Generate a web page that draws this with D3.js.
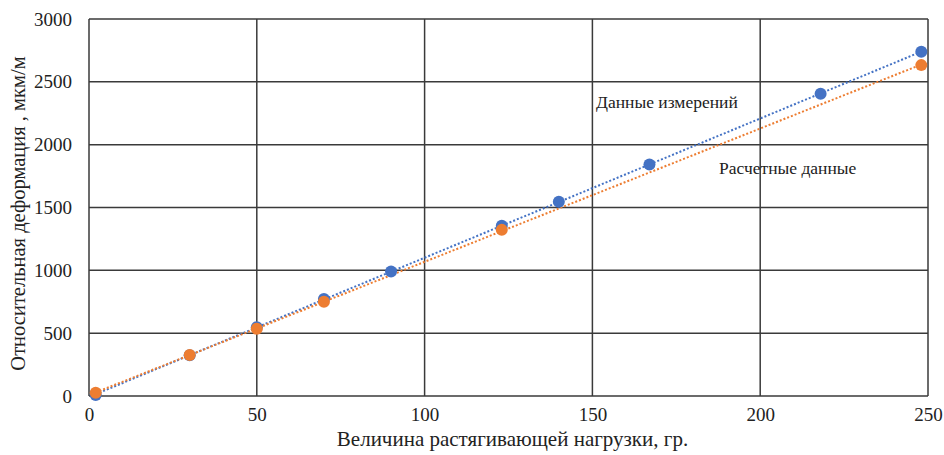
<!DOCTYPE html>
<html>
<head>
<meta charset="utf-8">
<script src="https://cdn.jsdelivr.net/npm/d3@7"></script>
<style>
	body { margin: 0; background: #fff; }
	svg text { font-family: 'Liberation Serif', 'Tinos', 'Times New Roman', 'DejaVu Serif', serif; fill: #222; }
</style>
</head>
<body>
<script>
// Данные измерений
var measuredX = [2, 30, 50, 70, 90, 123, 140, 167, 218, 248]
var measuredY = [8, 325, 548, 772, 990, 1355, 1546, 1843, 2405, 2739]
// Расчетные данные
var calcX = [2, 30, 50, 70, 123, 248]
var calcY = [25, 326, 535, 750, 1322, 2633]

var xTicks = [0, 50, 100, 150, 200, 250]
var yTicks = [0, 500, 1000, 1500, 2000, 2500, 3000]

var width = 944, height = 455
var margin = {left: 89, top: 19, right: 16, bottom: 59}
var serif = "'Liberation Serif', 'Tinos', 'Times New Roman', 'DejaVu Serif', serif"

function zip(xs, ys){
	return xs.map(function(x, i){ return {x: x, y: ys[i]} })
}

// linear least squares trendline, like Excel
function fit(pts){
	var mx = d3.mean(pts, function(d){ return d.x })
	var my = d3.mean(pts, function(d){ return d.y })
	var sxy = d3.sum(pts, function(d){ return (d.x - mx) * (d.y - my) })
	var sxx = d3.sum(pts, function(d){ return (d.x - mx) * (d.x - mx) })
	var k = sxy / sxx, b = my - k * mx
	var x0 = d3.min(pts, function(d){ return d.x }), x1 = d3.max(pts, function(d){ return d.x })
	return [{x: x0, y: k * x0 + b}, {x: x1, y: k * x1 + b}]
}

var series = [
	{name: 'measured', color: '#4472C4', points: zip(measuredX, measuredY)},
	{name: 'calc', color: '#ED7D31', points: zip(calcX, calcY)}
]

var x = d3.scaleLinear().domain([0, 250]).range([margin.left, width - margin.right])
var y = d3.scaleLinear().domain([0, 3000]).range([height - margin.bottom, margin.top])

var svg = d3.select('body').append('svg')
	.attr('width', width)
	.attr('height', height)

var grid = svg.append('g').attr('class', 'grid')
grid.selectAll('.vline').data(xTicks).enter().append('line')
	.attr('x1', function(d){ return x(d) })
	.attr('x2', function(d){ return x(d) })
	.attr('y1', y(0))
	.attr('y2', y(3000))
	.style('stroke', '#3a3a3a')
	.style('stroke-width', 1.5)
grid.selectAll('.hline').data(yTicks).enter().append('line')
	.attr('x1', x(0))
	.attr('x2', x(250))
	.attr('y1', function(d){ return y(d) })
	.attr('y2', function(d){ return y(d) })
	.style('stroke', '#3a3a3a')
	.style('stroke-width', 1.5)

var xAxis = svg.append('g')
	.attr('transform', 'translate(0,' + y(0) + ')')
	.call(d3.axisBottom(x).tickValues(xTicks).tickFormat(d3.format('d')).tickSize(0).tickPadding(12))
var yAxis = svg.append('g')
	.attr('transform', 'translate(' + x(0) + ',0)')
	.call(d3.axisLeft(y).tickValues(yTicks).tickFormat(d3.format('d')).tickSize(0).tickPadding(17))
xAxis.select('.domain').remove()
yAxis.select('.domain').remove()
xAxis.attr('font-family', null)
yAxis.attr('font-family', null)
svg.selectAll('.tick text')
	.style('font-family', serif)
	.style('font-size', '19px')
	.style('fill', '#222')

var line = d3.line()
	.x(function(d){ return x(d.x) })
	.y(function(d){ return y(d.y) })

// trendlines first, points on top
series.forEach(function(s){
	svg.append('path')
		.datum(fit(s.points))
		.attr('d', line)
		.style('fill', 'none')
		.style('stroke', s.color)
		.style('stroke-width', 2)
		.style('stroke-dasharray', '2,2')
})
series.forEach(function(s){
	svg.selectAll('.pt-' + s.name).data(s.points).enter().append('circle')
		.attr('class', 'pt-' + s.name)
		.attr('cx', function(d){ return x(d.x) })
		.attr('cy', function(d){ return y(d.y) })
		.attr('r', 6)
		.style('fill', s.color)
})

svg.append('text')
	.attr('x', 596)
	.attr('y', 108)
	.style('font-family', serif)
	.style('font-size', '17.5px')
	.text('Данные измерений')
svg.append('text')
	.attr('x', 719)
	.attr('y', 174)
	.style('font-family', serif)
	.style('font-size', '17.5px')
	.text('Расчетные данные')

svg.append('text')
	.attr('x', (x(0) + x(250)) / 2 + 4)
	.attr('y', 446)
	.attr('text-anchor', 'middle')
	.style('font-family', serif)
	.style('font-size', '21px')
	.text('Величина растягивающей нагрузки, гр.')
svg.append('text')
	.attr('transform', 'translate(25,' + ((y(0) + y(3000)) / 2 + 6) + ') rotate(-90)')
	.attr('text-anchor', 'middle')
	.style('font-family', serif)
	.style('font-size', '20.5px')
	.text('Относительная деформация , мкм/м')
</script>
</body>
</html>
